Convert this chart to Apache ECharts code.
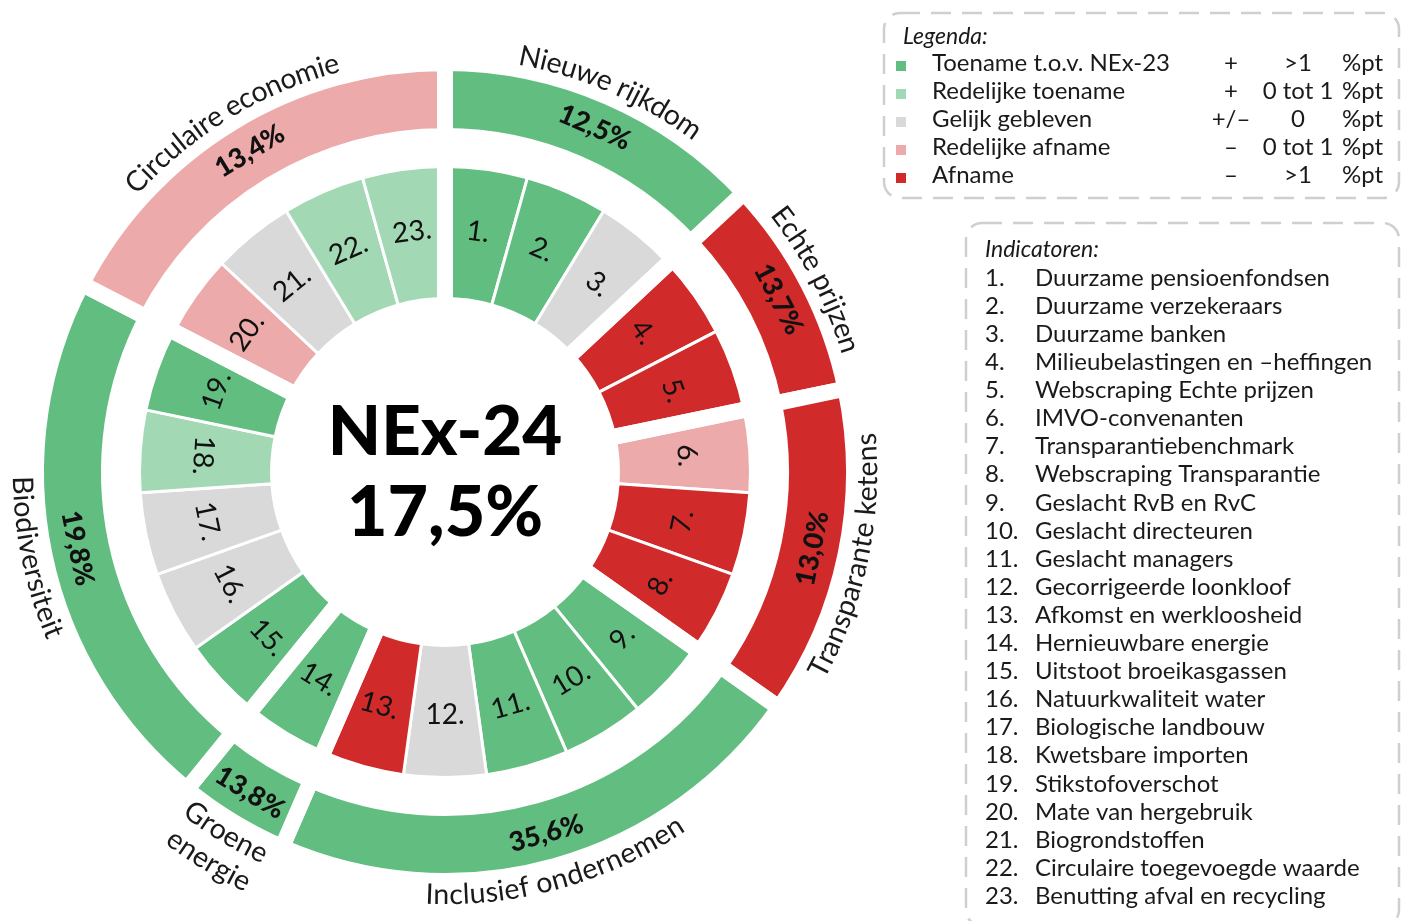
<!DOCTYPE html>
<html>
<head>
<meta charset="utf-8">
<script src="https://cdn.jsdelivr.net/npm/echarts@6/dist/echarts.min.js"></script>
<style>
html,body{margin:0;padding:0;background:#ffffff;}
#chart{width:1407px;height:921px;}
</style>
</head>
<body>
<div id="chart"></div>
<script>
// ---------------- DATA ----------------
const themeNames = ['Nieuwe rijkdom', 'Echte prijzen', 'Transparante ketens', 'Inclusief ondernemen', 'Groene\nenergie', 'Biodiversiteit', 'Circulaire economie'];
const themeSizes = [3, 2, 3, 5, 1, 5, 4];
const themeScores = [12.5, 13.7, 13.0, 35.6, 13.8, 19.8, 13.4];
const themeStatus = ['T', 'A', 'A', 'T', 'T', 'T', 'RA'];

const indicatorNames = [
  'Duurzame pensioenfondsen', 'Duurzame verzekeraars', 'Duurzame banken',
  'Milieubelastingen en \u2013heffingen', 'Webscraping Echte prijzen',
  'IMVO-convenanten', 'Transparantiebenchmark', 'Webscraping Transparantie',
  'Geslacht RvB en RvC', 'Geslacht directeuren', 'Geslacht managers',
  'Gecorrigeerde loonkloof', 'Afkomst en werkloosheid',
  'Hernieuwbare energie',
  'Uitstoot broeikasgassen', 'Natuurkwaliteit water', 'Biologische landbouw',
  'Kwetsbare importen', 'Stikstofoverschot',
  'Mate van hergebruik', 'Biogrondstoffen', 'Circulaire toegevoegde waarde',
  'Benutting afval en recycling'
];
const indicatorWeights = [1, 1, 1, 1, 1, 1, 1, 1, 1, 1, 1, 1, 1, 1, 1, 1, 1, 1, 1, 1, 1, 1, 1];
const indicatorStatus = ['T', 'T', 'G', 'A', 'A', 'RA', 'A', 'A', 'T', 'T', 'T', 'G', 'A', 'T', 'T', 'G', 'G', 'RT', 'T', 'RA', 'G', 'RT', 'RT'];

const legendKeys = ['T', 'RT', 'G', 'RA', 'A'];
const legendLabels = ['Toename t.o.v. NEx-23', 'Redelijke toename', 'Gelijk gebleven', 'Redelijke afname', 'Afname'];
const legendSigns = ['+', '+', '+/\u2013', '\u2013', '\u2013'];
const legendRanges = ['>1', '0 tot 1', '0', '0 tot 1', '>1'];
const legendUnit = '%pt';
const legendTitle = 'Legenda:';
const indicatorTitle = 'Indicatoren:';

const headlineTitle = 'NEx-24';
const headlineScore = 17.5;

// ---------------- STYLE ----------------
const statusColors = { T: '#62BD80', RT: '#A2D8B3', G: '#D9D9D9', RA: '#EDAAAA', A: '#D12A2A' };
const CX = 445, CY = 472;
const FONT = 'Lato';
const NAME_FONT = '28.5px Lato';
const NAME_R = 423, NAME_LINE = 33;
const TEXT = '#1a1a1a';
const LEG_FONT = '24px Lato';

const fmt = v => v.toFixed(1).replace('.', ',') + '%';
const totalW = indicatorWeights.reduce((a, b) => a + b, 0);
const step = 360 / totalW;

// clockwise rotation (deg) that keeps text readable along the ring
function tangential(th) {
  if (th > 90 && th < 280) return th - 180;
  return th > 180 ? th - 360 : th;
}

// inner ring data
let cum = 0;
const innerData = indicatorNames.map((nm, i) => {
  const mid = (cum + indicatorWeights[i] / 2) * step;
  cum += indicatorWeights[i];
  return {
    name: (i + 1) + '.',
    value: indicatorWeights[i],
    itemStyle: { color: statusColors[indicatorStatus[i]] },
    label: { rotate: -tangential(mid) }
  };
});

// outer ring data
cum = 0;
const themeMids = [];
const outerData = themeNames.map((nm, i) => {
  const midU = cum + themeSizes[i] / 2;
  themeMids.push(midU);
  cum += themeSizes[i];
  return {
    name: nm.replace('\n', ' '),
    value: themeSizes[i],
    itemStyle: { color: statusColors[themeStatus[i]] },
    label: { rotate: -tangential(midU * step) }
  };
});

// text measuring for curved labels
const mctx = document.createElement('canvas').getContext('2d');
function tw(s) { mctx.font = NAME_FONT; return mctx.measureText(s).width; }

function renderCurved(params, api) {
  const i = params.dataIndex;
  const rBase = api.value(0);
  const aMid = api.value(1);
  const lines = themeNames[i].split('\n');
  const ccw = (aMid * step > 90 && aMid * step < 280);
  const children = [];
  lines.forEach((line, li) => {
    const r = ccw ? rBase + li * NAME_LINE : rBase - li * NAME_LINE;
    const total = tw(line);
    for (let k = 0; k < line.length; k++) {
      const ch = line[k];
      if (ch === ' ') continue;
      const c = (tw(line.slice(0, k)) + tw(line.slice(0, k + 1))) / 2 - total / 2;
      const dU = (c / r) * 180 / Math.PI / step;
      const a = ccw ? aMid - dU : aMid + dU;
      const p = api.coord([r, a]);
      const th = a * step;
      const rot = ccw ? th - 180 : th;
      children.push({
        type: 'text', x: p[0], y: p[1], rotation: -rot * Math.PI / 180,
        style: { text: ch, font: NAME_FONT, fill: TEXT, align: 'center', verticalAlign: 'middle' }
      });
    }
  });
  return { type: 'group', children: children };
}

// ---------------- GRAPHIC (legend boxes + centre) ----------------
const graphics = [];
const dash = { stroke: '#CFCFCF', lineWidth: 2.5, lineDash: [20, 11], fill: 'none' };
graphics.push({ type: 'rect', shape: { x: 884, y: 13, width: 515, height: 185, r: 16 }, style: dash, silent: true });
graphics.push({ type: 'text', x: 903, y: 37, style: { text: legendTitle, font: 'italic 23px Lato', fill: TEXT, verticalAlign: 'middle' } });
legendLabels.forEach((lb, i) => {
  const y = 63 + 28 * i;
  graphics.push({ type: 'rect', shape: { x: 896, y: y - 2, width: 10, height: 10 }, style: { fill: statusColors[legendKeys[i]] } });
  graphics.push({ type: 'text', x: 932, y: y, style: { text: lb, font: LEG_FONT, fill: TEXT, verticalAlign: 'middle' } });
  graphics.push({ type: 'text', x: 1231, y: y, style: { text: legendSigns[i], font: LEG_FONT, fill: TEXT, align: 'center', verticalAlign: 'middle' } });
  graphics.push({ type: 'text', x: 1298, y: y, style: { text: legendRanges[i], font: LEG_FONT, fill: TEXT, align: 'center', verticalAlign: 'middle' } });
  graphics.push({ type: 'text', x: 1342, y: y, style: { text: legendUnit, font: LEG_FONT, fill: TEXT, verticalAlign: 'middle' } });
});
graphics.push({ type: 'rect', shape: { x: 966, y: 223, width: 433, height: 703, r: 16 }, style: dash, silent: true });
graphics.push({ type: 'text', x: 985, y: 250, style: { text: indicatorTitle, font: 'italic 23px Lato', fill: TEXT, verticalAlign: 'middle' } });
indicatorNames.forEach((nm, i) => {
  const y = 278 + 28.1 * i;
  graphics.push({ type: 'text', x: 985, y: y, style: { text: (i + 1) + '.', font: LEG_FONT, fill: TEXT, verticalAlign: 'middle' } });
  graphics.push({ type: 'text', x: 1035, y: y, style: { text: nm, font: LEG_FONT, fill: TEXT, verticalAlign: 'middle' } });
});
graphics.push({ type: 'text', x: CX, y: 433, style: { text: headlineTitle, font: '900 69px Lato', fill: '#000', align: 'center', verticalAlign: 'middle' } });
graphics.push({ type: 'text', x: CX, y: 513, style: { text: fmt(headlineScore), font: '900 70px Lato', fill: '#000', align: 'center', verticalAlign: 'middle' } });

// ---------------- CHART ----------------
const chart = echarts.init(document.getElementById('chart'), null, { renderer: 'canvas' });
chart.setOption({
  backgroundColor: '#ffffff',
  animation: false,
  polar: { center: [CX, CY], radius: 500 },
  angleAxis: { type: 'value', min: 0, max: totalW, startAngle: 90, clockwise: true, show: false, splitLine: { show: false }, axisLine: { show: false }, axisLabel: { show: false }, axisTick: { show: false } },
  radiusAxis: { type: 'value', min: 0, max: 500, show: false, splitLine: { show: false }, axisLine: { show: false }, axisLabel: { show: false }, axisTick: { show: false } },
  graphic: graphics,
  series: [
    {
      type: 'pie', name: 'indicatoren', center: [CX, CY], radius: [173.5, 305.5],
      startAngle: 90, clockwise: true, avoidLabelOverlap: false, silent: true,
      emphasis: { disabled: true }, z: 2,
      itemStyle: { borderColor: '#ffffff', borderWidth: 3 },
      label: { show: true, position: 'inside', formatter: '{b}', fontFamily: FONT, fontSize: 28, fontWeight: 'normal', color: '#111' },
      labelLine: { show: false },
      data: innerData
    },
    {
      type: 'pie', name: 'groepscheiding', center: [CX, CY], radius: [165, 314],
      startAngle: 90, clockwise: true, silent: true, emphasis: { disabled: true }, z: 3,
      itemStyle: { color: 'rgba(255,255,255,0)', borderColor: '#ffffff', borderWidth: 16 },
      label: { show: false }, labelLine: { show: false },
      data: themeSizes.map(v => ({ value: v }))
    },
    {
      type: 'pie', name: 'thema', center: [CX, CY], radius: [336, 409],
      startAngle: 90, clockwise: true, avoidLabelOverlap: false, silent: true,
      emphasis: { disabled: true }, z: 2,
      itemStyle: { borderColor: '#ffffff', borderWidth: 16 },
      label: { show: true, position: 'inside', formatter: p => fmt(themeScores[p.dataIndex]), fontFamily: FONT, fontSize: 27, fontWeight: 900, color: '#111' },
      labelLine: { show: false },
      data: outerData
    },
    {
      type: 'custom', name: 'themanamen', coordinateSystem: 'polar', silent: true, z: 5,
      renderItem: renderCurved,
      data: themeMids.map(m => [NAME_R, m])
    }
  ]
});
</script>
</body>
</html>
